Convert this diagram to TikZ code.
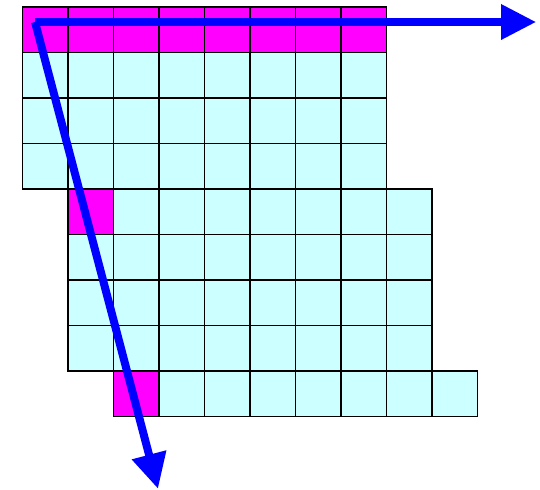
\documentclass[tikz,border=0pt]{standalone}
\usepackage{tikz}
\usetikzlibrary{arrows.meta}
\definecolor{cellfill}{RGB}{204,255,255}
\definecolor{rowfill}{RGB}{255,0,255}
\definecolor{axisblue}{RGB}{0,0,255}
\tikzset{
  cell/.style={draw=black, line width=1.2pt, fill=cellfill},
  hicell/.style={cell, fill=rowfill},
  axis/.style={axisblue, line width=5pt, -{Triangle[length=22pt,width=21pt]}}
}

\begin{document}
\begin{tikzpicture}
    \useasboundingbox (-0.495,0.154) rectangle (11.374,-10.615);
    % first block: rows 0-3, columns 0-7
    \foreach \r in {0,...,3}
      \foreach \c in {0,...,7}
        \draw[cell] (\c,-\r) rectangle ++(1,-1);
    % second block: rows 4-7, shifted by one column
    \foreach \r in {4,...,7}
      \foreach \c in {1,...,8}
        \draw[cell] (\c,-\r) rectangle ++(1,-1);
    % last row, shifted by two columns
    \foreach \c in {2,...,9}
      \draw[cell] (\c,-8) rectangle ++(1,-1);
    % highlighted cells
    \foreach \c in {0,...,7}
      \draw[hicell] (\c,0) rectangle ++(1,-1);
    \draw[hicell] (1,-4) rectangle ++(1,-1);
    \draw[hicell] (2,-8) rectangle ++(1,-1);
    % the two axes
    \coordinate (origin) at (0.275,-0.33);
    \coordinate (xend) at (11.29,-0.33);
    \coordinate (yend) at (2.978,-10.59);
    \draw[axis] (origin) -- (xend);
    \draw[axis] (origin) -- (yend);
\end{tikzpicture}
\end{document}
